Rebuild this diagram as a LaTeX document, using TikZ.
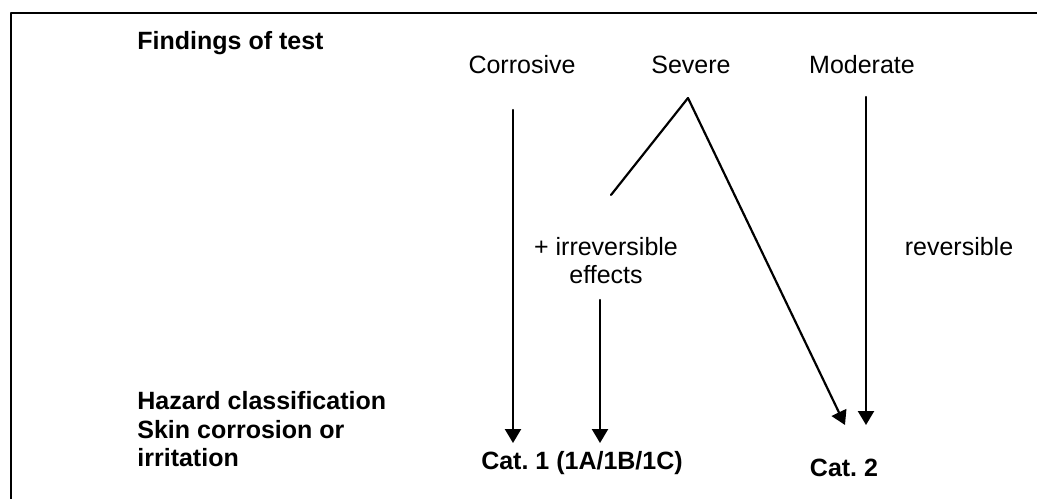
\documentclass[tikz,border=0pt]{standalone}
\usepackage{fontspec}
\setmainfont{Liberation Sans}
\usetikzlibrary{arrows.meta}
\frenchspacing

\begin{document}
\begin{tikzpicture}[
						x=0.48pt, y=-0.48pt,
						every node/.style={font=\fontsize{12}{13.7}\selectfont, inner sep=0pt},
						heading/.style={font=\fontsize{12}{13.7}\selectfont\bfseries, align=left, anchor=base west},
						finding/.style={anchor=base},
						result/.style={font=\fontsize{12}{13.7}\selectfont\bfseries, anchor=base},
						flow/.style={-{Triangle[length=6.7pt, width=7.7pt]}, line width=1.05pt},
						line cap=round,
						line join=round
						]
						
						% Frame
						\useasboundingbox (0,0) rectangle (1037,499);
						\draw[line width=1.05pt, line cap=butt] (11,499) -- (11,13) -- (1037,13);
						
						% Row labels (base = last line)
						\node[heading] (findings) at (137,50) {Findings of test};
						\node[heading] (hazard) at (137,467) {Hazard classification\\Skin corrosion or\\irritation};
						
						% Findings
						\node[finding] (corrosive) at (522,74) {Corrosive};
						\node[finding] (severe) at (691,74) {Severe};
						\node[finding] (moderate) at (862,74) {Moderate};
						\node[finding, align=center] (irrev) at (606,284) {+ irreversible\\effects};
						\node[finding] (reversible) at (959,256) {reversible};
						
						% Categories
						\node[result] (cat1) at (582,470) {Cat. 1 (1A/1B/1C)};
						\node[result] (cat2) at (844,477) {Cat. 2};
						
						% Arrow ends
						\coordinate (ctop) at (513,110);
						\coordinate (cend) at (513,443);
						\coordinate (apex) at (688,98);
						\coordinate (branch) at (611,195);
						\coordinate (etop) at (600,300);
						\coordinate (eend) at (600,443);
						\coordinate (send) at (845,425);
						\coordinate (mtop) at (866,97);
						\coordinate (mend) at (866,425);
						
						% Arrows
						\draw[flow] (ctop) -- (cend);
						\draw[line width=1.05pt] (branch) -- (apex);
						\draw[flow] (apex) -- (send);
						\draw[flow] (etop) -- (eend);
						\draw[flow] (mtop) -- (mend);
						
					\end{tikzpicture}
\end{document}
